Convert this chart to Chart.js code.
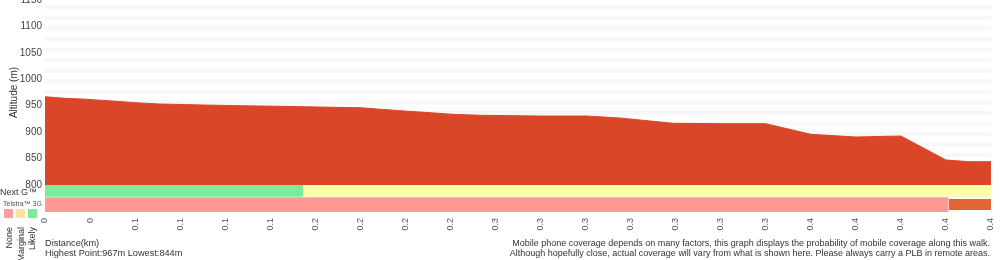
<!DOCTYPE html>
<html>
<head>
<meta charset="utf-8">
<script src="https://cdn.jsdelivr.net/npm/chart.js@4.4.1/dist/chart.umd.min.js"></script>
<style>
  html, body { margin:0; padding:0; background:#fff; }
  body { width:1000px; height:260px; overflow:hidden; position:relative; font-family:'Liberation Sans', Arial, Helvetica, sans-serif; color:#333; }
  #c { position:absolute; left:0; top:0; }
  .t { position:absolute; white-space:nowrap; }
  .sq { position:absolute; width:9px; height:9px; top:209px; }
  .vt { position:absolute; top:227px; writing-mode:vertical-rl; transform:rotate(180deg); font-size:9px; line-height:10px; color:#333; white-space:nowrap; }
</style>
</head>
<body>
<canvas id="c" width="1000" height="260"></canvas>

<div class="t" style="left:0;top:187px;font-size:9px;line-height:10px;">Next G™</div>
<div class="t" style="left:3px;top:200px;font-size:7px;line-height:8px;color:#555;">Telstra™ 3G</div>
<div class="sq" style="left:4px;background:#ff9e9c;"></div>
<div class="sq" style="left:16px;background:#ffe3a6;"></div>
<div class="sq" style="left:28px;background:#7fe99b;"></div>
<div class="vt" style="left:3.5px;">None</div>
<div class="vt" style="left:15.5px;">Marginal</div>
<div class="vt" style="left:27px;">Likely</div>

<div class="t" style="left:45px;top:238px;font-size:9.2px;line-height:10px;">Distance(km)<br>Highest Point:967m Lowest:844m</div>
<div class="t" style="right:10px;top:238px;font-size:9px;line-height:10px;text-align:right;">Mobile phone coverage depends on many factors, this graph displays the probability of mobile coverage along this walk.<br>Although hopefully close, actual coverage will vary from what is shown here. Please always carry a PLB in remote areas.</div>

<script>
// ---- data ----
const xTickLabels = ['0','0','0.1','0.1','0.1','0.1','0.2','0.2','0.2','0.2','0.3','0.3','0.3','0.3','0.3','0.3','0.3','0.4','0.4','0.4','0.4','0.4'];
const profileX   = [0, 0.44, 0.81, 1.4, 2.0, 2.55, 3.5, 4.33, 5.2, 6.4, 7.0, 7.37, 7.88, 8.55, 9.03, 9.66, 11, 12.03, 12.76, 13.94, 15, 16, 17, 18, 19, 20, 20.5, 21];
const profileAlt = [967, 964, 962.7, 959.5, 955.7, 953.2, 951.4, 950, 948.9, 947, 946.2, 943.8, 940.6, 936.8, 933.8, 931.9, 930.5, 930.5, 926.8, 916.7, 916, 916, 895.9, 890.8, 892.7, 847.3, 844.2, 844];
const nextGFrom  = [0, 5.73];
const nextGTo    = [5.73, 21];
const nextGLevel = ['likely', 'marginal'];
const g3From     = [0, 20.06];
const g3To       = [20.06, 21];
const g3Level    = ['none', 'other'];

// ---- styles ----
const levelColor = { likely:'#7bec99', marginal:'#fffea6', none:'#ff9996', other:'#e0652e' };
const nextGBand = [15.3, 27];
const g3Band = { none:[0, 14.7], other:[2, 13] };
const fontFam = "'Liberation Sans', Arial, Helvetica, sans-serif";

function segDatasets(from, to, level, bandFor) {
  return from.map((f, i) => {
    const band = bandFor(level[i]);
    return {
      yAxisID:'cov',
      data:[{x:f, y:band[1]}, {x:to[i], y:band[1]}],
      fill:{value:band[0]},
      backgroundColor:levelColor[level[i]],
      borderColor:'rgba(0,0,0,0)', borderWidth:0, pointRadius:0
    };
  });
}

const bandPlugin = {
  id:'bands',
  beforeDatasetsDraw(chart) {
    const y = chart.scales.y, ctx = chart.ctx, a = chart.chartArea;
    ctx.save();
    ctx.fillStyle = '#f7f7f7';
    for (let v = 820; v <= 1140; v += 20) {
      const p0 = y.getPixelForValue(v), p1 = y.getPixelForValue(v - 7.6);
      ctx.fillRect(a.left, p0, a.right - a.left, p1 - p0);
    }
    ctx.restore();
  }
};

Chart.defaults.font.family = fontFam;

new Chart(document.getElementById('c'), {
  type:'line',
  data:{
    datasets:[
      {
        yAxisID:'y',
        data: profileX.map((x, i) => ({x, y:profileAlt[i]})),
        fill:'start',
        backgroundColor:'#da4628', borderColor:'#da4628', borderWidth:1,
        pointRadius:0, tension:0
      },
      ...segDatasets(nextGFrom, nextGTo, nextGLevel, () => nextGBand),
      ...segDatasets(g3From, g3To, g3Level, (lv) => g3Band[lv])
    ]
  },
  options:{
    responsive:false, animation:false,
    layout:{ padding:{ left:0, right:9, top:0, bottom:28 } },
    plugins:{ legend:{display:false}, tooltip:{enabled:false} },
    scales:{
      x:{
        type:'linear', min:0, max:21, position:'bottom',
        grid:{display:false, drawTicks:false}, border:{display:false},
        afterFit(s){ s.height = 20; s.paddingLeft = 0; s.paddingRight = 0; },
        ticks:{ stepSize:1, autoSkip:false, minRotation:90, maxRotation:90, padding:6, color:'#555', font:{size:9},
          callback:(v) => xTickLabels[Math.round(v)] }
      },
      cov:{
        type:'linear', min:0, max:27, position:'left', stack:'v', stackWeight:27,
        grid:{display:false, drawTicks:false}, border:{display:false},
        ticks:{display:false},
        afterFit(s){ s.width = 45; s.paddingTop = 0; s.paddingBottom = 0; }
      },
      y:{
        type:'linear', min:800, max:1150, position:'left', stack:'v', stackWeight:185,
        grid:{display:false, drawTicks:false}, border:{display:false},
        afterFit(s){ s.width = 45; s.paddingTop = 0; s.paddingBottom = 0; },
        ticks:{ stepSize:50, autoSkip:false, padding:3, color:'#444', font:{size:10}, callback:(v) => String(v) },
        title:{ display:true, text:'Altitude (m)', color:'#333', font:{size:10}, padding:{top:8, bottom:0} }
      }
    }
  },
  plugins:[bandPlugin]
});
</script>
</body>
</html>
